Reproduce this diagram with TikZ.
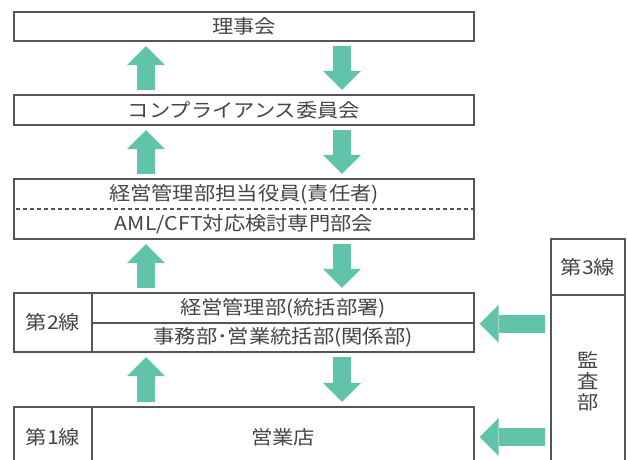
\documentclass[tikz,border=0pt]{standalone}
\usepackage{fontspec}
\setmainfont{Noto Sans CJK JP}[FakeStretch=1.12]
\usetikzlibrary{arrows.meta}
\definecolor{arrowgreen}{RGB}{97,196,170}
\definecolor{linegray}{RGB}{85,85,85}
\definecolor{textgray}{RGB}{68,68,68}
\begin{document}
\begin{tikzpicture}[x=1pt,y=-1pt,
  box/.style={draw=linegray,line width=1.3pt,inner sep=0pt,text=textgray,
    font=\fontsize{19pt}{21pt}\selectfont},
  label/.style={inner sep=0pt,text=textgray,font=\fontsize{19pt}{21pt}\selectfont},
  garrow/.style={draw=arrowgreen,line width=18pt,
    -{Triangle[width=38pt,length=19pt,line width=0pt]},
    shorten >=4.5pt,shorten <=4.5pt},
  sarrow/.style={draw=arrowgreen,line width=18pt,
    -{Triangle[width=38pt,length=19pt,line width=0pt]},
    shorten >=5pt,shorten <=5pt}]
\useasboundingbox (0,0) rectangle (627,459);
\coordinate (ux) at (146,0);
\coordinate (dx) at (342,0);
% boxes
\node[box,minimum width=460pt,minimum height=29pt] (riji) at (244,26.5) {理事会};
\node[box,minimum width=460pt,minimum height=30pt] (comp) at (244,110) {コンプライアンス委員会};
\node[box,minimum width=460pt,minimum height=60pt] (tanto) at (244,209) {};
\draw[linegray,line width=1.2pt,dash pattern=on 4pt off 3pt] ([xshift=3pt]tanto.west) -- (tanto.east);
\node[label] (t3a) at (244,194) {経営管理部担当役員(責任者)};
\node[label] (t3b) at (244,224) {AML/CFT対応検討専門部会};
\node[box,minimum width=78pt,minimum height=59pt] (dai2) at (53,322.5) {第2線};
\node[box,minimum width=382pt,minimum height=30pt] (kanri) at (283,308) {経営管理部(統括部署)};
\node[box,minimum width=382pt,minimum height=29pt] (jimu) at (283,337.5) {事務部･営業統括部(関係部)};
\node[box,minimum width=78pt,minimum height=60pt] (dai1) at (53,437) {第1線};
\node[box,minimum width=382pt,minimum height=60pt] (eigyo) at (283,437) {営業店};
\node[box,minimum width=74pt,minimum height=56pt] (dai3) at (588,267) {第3線};
\node[box,minimum width=74pt,minimum height=180pt] (kansa) at (588,385) {};
\node[label,align=center] (kansat) at (588,381) {監\\査\\部};
% vertical arrows
\draw[garrow] (comp.north -| ux) -- (riji.south -| ux);
\draw[garrow] (riji.south -| dx) -- (comp.north -| dx);
\draw[garrow] (tanto.north -| ux) -- (comp.south -| ux);
\draw[garrow] (comp.south -| dx) -- (tanto.north -| dx);
\draw[garrow] (kanri.north -| ux) -- (tanto.south -| ux);
\draw[garrow] (tanto.south -| dx) -- (kanri.north -| dx);
\draw[garrow] (eigyo.north -| ux) -- (jimu.south -| ux);
\draw[garrow] (jimu.south -| dx) -- (eigyo.north -| dx);
% horizontal arrows
\draw[sarrow] (kanri.south -| kansa.west) -- (kanri.south east);
\draw[sarrow] (eigyo.east -| kansa.west) -- (eigyo.east);
\end{tikzpicture}
\end{document}
